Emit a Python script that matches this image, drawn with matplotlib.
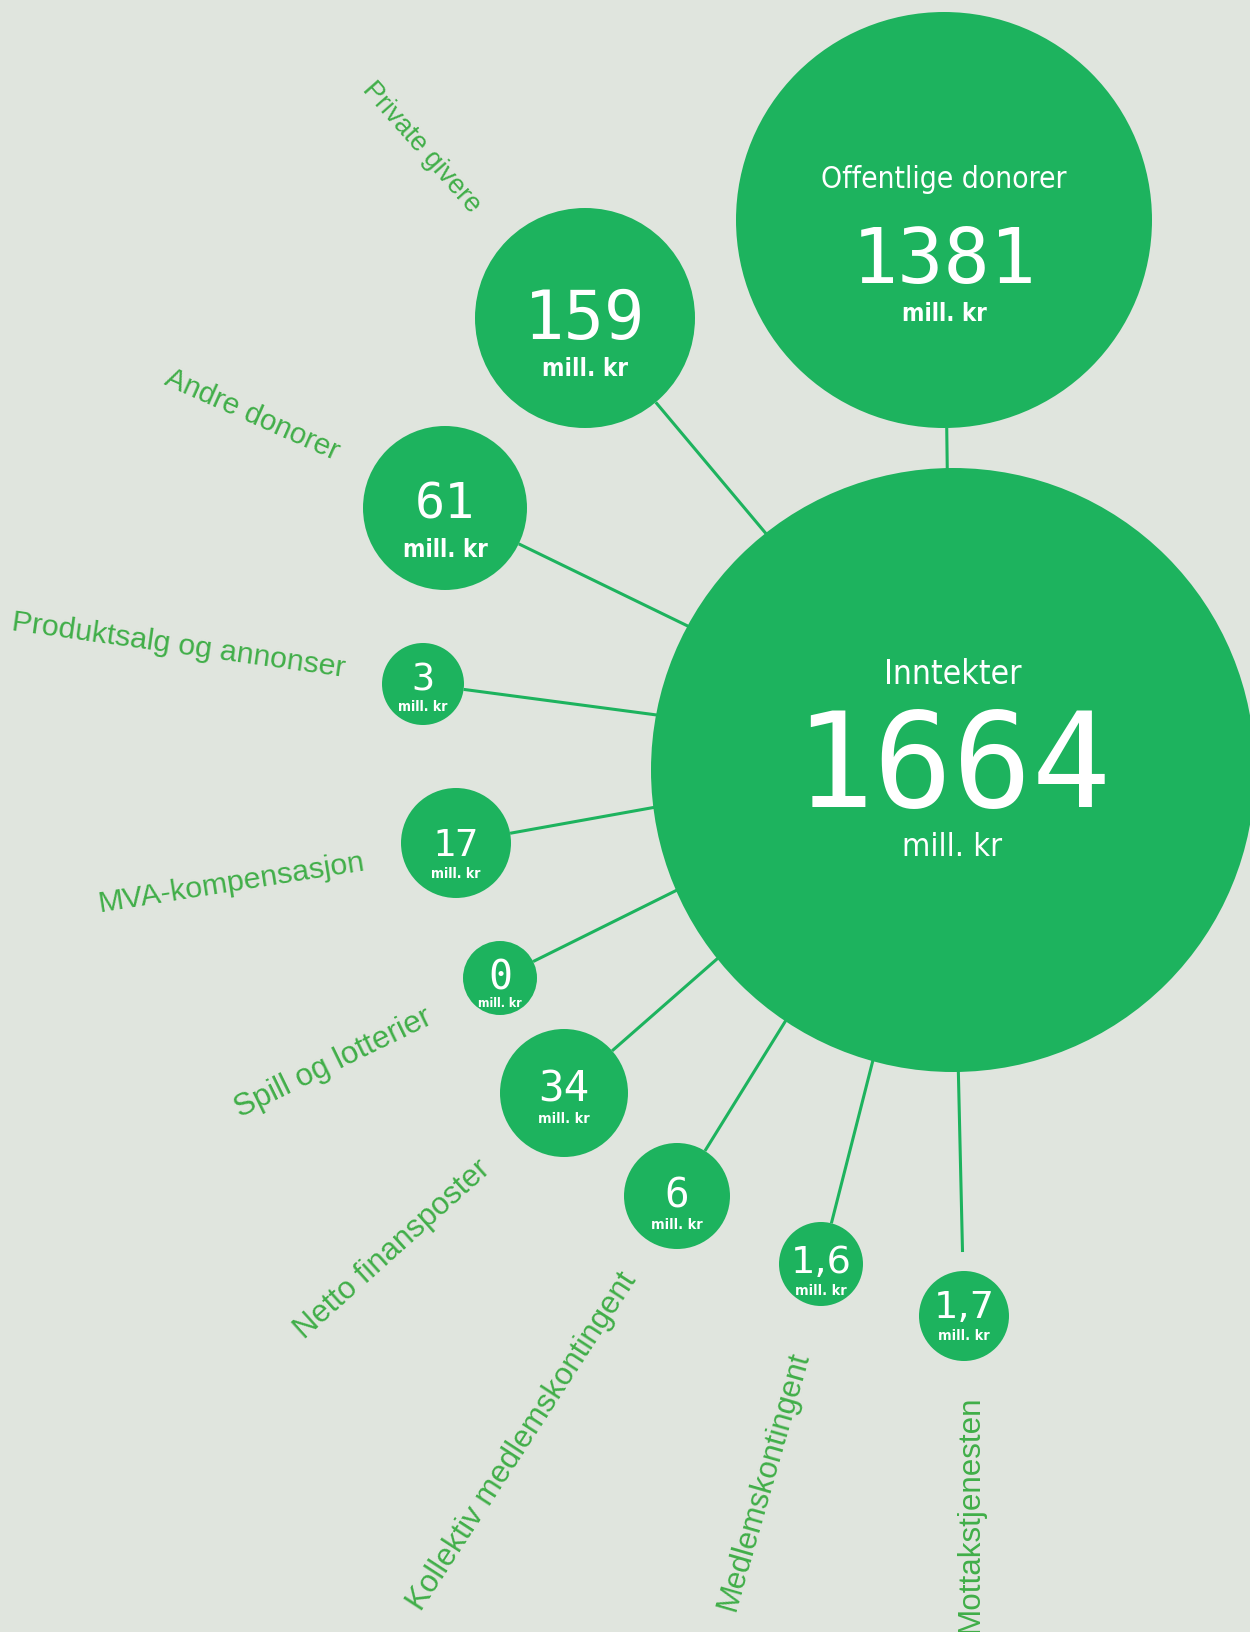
import matplotlib
matplotlib.use("Agg")
import matplotlib.pyplot as plt
from matplotlib.patches import Circle
from matplotlib import font_manager as fm
import numpy as np

# ---------------- data ----------------
hub_label = "Inntekter"
hub_value = 1664
categories = ["Offentlige donorer", "Private givere", "Andre donorer",
              "Produktsalg og annonser", "MVA-kompensasjon", "Spill og lotterier",
              "Netto finansposter", "Kollektiv medlemskontingent",
              "Medlemskontingent", "Mottakstjenesten"]
values = [1381, 159, 61, 3, 17, 0, 34, 6, 1.6, 1.7]
unit = "mill. kr"

def fmt(v):
    return str(int(v)) if float(v).is_integer() else str(v).replace(".", ",")

# ---------------- layout (pixels, y down) ----------------
W, H = 1250, 1633
hub_xy, hub_r = (953, 771), 302
hub_anchor = (951, 755)
node_xy = [(944, 221), (585, 319), (445, 509), (423, 685), (456, 844),
           (500, 979), (564, 1094), (677, 1197), (821, 1265), (964, 1317)]
node_r = [208, 110, 82, 41, 55, 37, 64, 53, 42, 45]
link_gap = [0, 0, 0, 0, 0, 0, 0, 0, 0, 19]
val_y = [283, 339, 519, 691, 856, 990, 1102, 1208, 1273, 1318]
val_h = [56, 49, 36.5, 28, 28, 29, 31, 30, 28, 28]
unit_y = [321, 376, 557, 711, 878, 1007, 1123, 1229, 1295, 1340]
unit_w = [85, 86, 85, 50, 50, 44, 51, 51, 51, 51]
# outside labels (index 1..9): centre, length, rotation
lab_xy = [None, (421, 147), (252, 415), (178, 646), (231, 883), (333, 1063),
          (393, 1250), (522, 1442), (764, 1481), (970, 1514)]
lab_w = [None, 165, 187, 335, 269, 215, 251, 396, 267, 236]
lab_rot = [None, -48.7, -24, -8, 9, 26, 42, 57, 74, 90]

BG = "#e0e5de"
GREEN = "#1db35e"
LABEL = "#40ae48"

# ---------------- fonts ----------------
ttf = fm.fontManager.ttflist
names = {f.name for f in ttf}
if "Liberation Sans Narrow" in names:
    COND = dict(family="Liberation Sans Narrow")
elif any(f.name == "DejaVu Sans" and "condensed" in str(f.stretch) for f in ttf):
    COND = dict(family="DejaVu Sans", fontstretch="condensed")
else:
    COND = dict(family="Roboto")
MONO = dict(family="DejaVu Sans Mono")
PROP = dict(family="DejaVu Sans")
LAB = dict(family="Liberation Sans" if "Liberation Sans" in names else "DejaVu Sans")

fig = plt.figure(figsize=(12.5, 16.33), dpi=100)
fig.patch.set_facecolor(BG)
ax = fig.add_axes([0, 0, 1, 1])
ax.set_xlim(0, W)
ax.set_ylim(H, 0)
ax.axis("off")
ax.set_facecolor(BG)
renderer = fig.canvas.get_renderer()


def fit_text(x, y, s, width, rot=0, va="baseline", **kw):
    t = ax.text(x, y, s, fontsize=20, ha="center", va=va, **kw)
    w = t.get_window_extent(renderer).width
    t.set_fontsize(20 * width / w)
    t.set_rotation(rot)
    t.set_rotation_mode("anchor")
    return t


def digit_text(x, y, s, h, **kw):
    size = h / 0.729 * 72 / fig.dpi
    fam = PROP if "," in s else MONO   # proportional comma for decimals
    return ax.text(x, y, s, fontsize=size, ha="center", va="baseline", **fam, **kw)


# links
hx, hy = hub_anchor
for (cx, cy), r, g in zip(node_xy, node_r, link_gap):
    d = np.hypot(cx - hx, cy - hy)
    ux, uy = (cx - hx) / d, (cy - hy) / d
    ex, ey = cx - ux * (r + g), cy - uy * (r + g)
    ax.plot([hx, ex], [hy, ey], color=GREEN, lw=2.2, zorder=1,
            solid_capstyle="butt")

# circles
ax.add_patch(Circle(hub_xy, hub_r, color=GREEN, zorder=2, lw=0))
for (cx, cy), r in zip(node_xy, node_r):
    ax.add_patch(Circle((cx, cy), r, color=GREEN, zorder=2, lw=0))

# hub texts
fit_text(953, 684, hub_label, 137, color="white", zorder=3, **COND)
digit_text(953, 807, fmt(hub_value), 96, color="white", zorder=3)
fit_text(952, 856, unit, 100, color="white", zorder=3, **COND)

# node texts
for i, ((cx, cy), v) in enumerate(zip(node_xy, values)):
    digit_text(cx, val_y[i], fmt(v), val_h[i], color="white", zorder=3)
    fit_text(cx, unit_y[i], unit, unit_w[i], color="white", zorder=3,
             fontweight="bold", **COND)
    if i == 0:
        fit_text(cx, 188, categories[0], 246, color="white", zorder=3, **COND)
    else:
        lx, ly = lab_xy[i]
        fit_text(lx, ly, categories[i], lab_w[i], rot=lab_rot[i], va="center",
                 color=LABEL, zorder=3, **LAB)

fig.savefig("out.png", dpi=100, facecolor=BG)
